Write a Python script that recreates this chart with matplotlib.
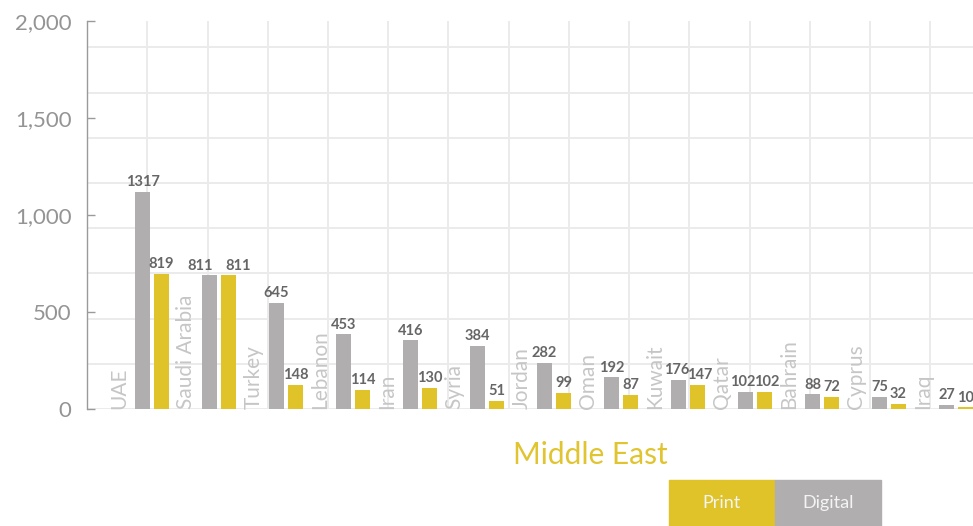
import numpy as np
import matplotlib
matplotlib.use("Agg")
import matplotlib.pyplot as plt
from matplotlib.ticker import FuncFormatter
from matplotlib.patches import Rectangle

# Middle East: digital vs print counts per country
countries = ["UAE", "Saudi Arabia", "Turkey", "Lebanon", "Iran", "Syria", "Jordan",
             "Oman", "Kuwait", "Qatar", "Bahrain", "Cyprus", "Iraq"]
digital = [1317, 811, 645, 453, 416, 384, 282, 192, 176, 102, 88, 75, 27]
print_ = [819, 811, 148, 114, 130, 51, 99, 87, 147, 102, 72, 32, 10]
yticks = [0, 500, 1000, 1500, 2000]

GRAY = "#b0aeaf"
YELLOW = "#dfc328"
LABEL = "#666666"

plt.rcParams["font.family"] = ["Lato", "DejaVu Sans"]

W, H = 973, 526
fig = plt.figure(figsize=(W / 100, H / 100), dpi=100)

# axes box in pixels
left, right, top, bottom = 87, 973, 20.7, 409
rect = [left / W, (H - bottom) / H, (right - left) / W, (bottom - top) / H]

# background grid (fixed pixel spacing)
bg = fig.add_axes(rect, zorder=0)
bg.set_xlim(0, right - left)
bg.set_ylim(0, bottom - top)
for gx in np.arange(60.25, right - left, 60.25):
    bg.axvline(gx, color="#ebebeb", lw=1.4)
for gy in np.arange(0, bottom - top, 45.2):
    bg.axhline(gy, color="#ebebeb", lw=1.4)
bg.axis("off")

# value axis with ticks
ax = fig.add_axes(rect, zorder=1)
ax.patch.set_alpha(0)
ax.set_ylim(0, 2000)
ax.set_yticks(yticks)
ax.yaxis.set_major_formatter(FuncFormatter(lambda v, p: f"{int(v):,}"))
ax.tick_params(axis="y", direction="in", length=6, width=1, color="#9a9a9a",
               pad=11, labelsize=16, labelcolor="#949494")
for s in ["top", "right", "bottom"]:
    ax.spines[s].set_visible(False)
ax.spines["left"].set_color("#9a9a9a")
ax.spines["left"].set_linewidth(1)
ax.set_xticks([])

# bars on their own scale
bx = fig.add_axes(rect, zorder=2)
bx.patch.set_alpha(0)
bx.axis("off")
bx.set_ylim(0, 2355)
bx.set_xlim(-0.828, 12.396)

x = np.arange(len(countries))
bw = 15 / 67
off = 19 / 67
bars_d = bx.bar(x, digital, width=bw, color=GRAY, clip_on=True)
bars_p = bx.bar(x + off, print_, width=bw, color=YELLOW, clip_on=True)

# nudge labels apart where neighbours collide
nudge = {1: (-7, 7), 8: (-1, 1.5), 9: (-2, 1.5)}
for i in range(len(countries)):
    dg, dp = nudge.get(i, (0, 0))
    bx.annotate(f"{digital[i]}", xy=(x[i], digital[i]), xytext=(dg, 2),
                textcoords="offset points", ha="center", va="bottom",
                fontsize=10.5, fontweight="bold", color=LABEL, annotation_clip=False)
    bx.annotate(f"{print_[i]}", xy=(x[i] + off, print_[i]), xytext=(dp, 2),
                textcoords="offset points", ha="center", va="bottom",
                fontsize=10.5, fontweight="bold", color=LABEL, annotation_clip=False)
    bx.text(x[i] - 23 / 67, 0, countries[i], rotation=90, ha="center",
            va="bottom", fontsize=15, color="#c6c6c6")

fig.text(590 / W, 1 - 455 / H, "Middle East", ha="center", va="center",
         fontsize=21.5, color="#e0c430")

# legend boxes
for x0, x1, name, col in [(669, 775, "Print", YELLOW), (775, 881, "Digital", GRAY)]:
    fig.patches.append(Rectangle((x0 / W, 0), (x1 - x0) / W, (H - 480) / H,
                                 transform=fig.transFigure, color=col, zorder=3))
    fig.text((x0 + x1) / 2 / W, 1 - 503 / H, name, ha="center", va="center",
             fontsize=13, color="#f4f4f4", zorder=4)

fig.savefig("out.png", dpi=100)
